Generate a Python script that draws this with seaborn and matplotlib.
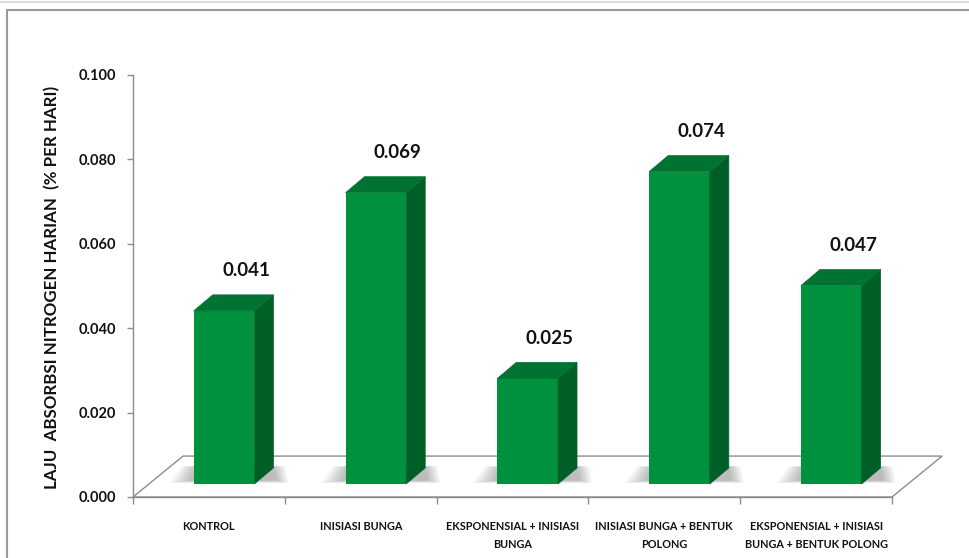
import matplotlib
matplotlib.use("Agg")
import matplotlib.pyplot as plt
from matplotlib.patches import Polygon, Rectangle
import seaborn as sns
import pandas as pd
import numpy as np

# ---- data ----
categories = [
    "KONTROL",
    "INISIASI BUNGA",
    "EKSPONENSIAL + INISIASI\nBUNGA",
    "INISIASI BUNGA + BENTUK\nPOLONG",
    "EKSPONENSIAL + INISIASI\nBUNGA + BENTUK POLONG",
]
values = [0.041, 0.069, 0.025, 0.074, 0.047]
value_labels = ["0.041", "0.069", "0.025", "0.074", "0.047"]
y_ticks = [0.000, 0.020, 0.040, 0.060, 0.080, 0.100]
y_tick_labels = ["0.000", "0.020", "0.040", "0.060", "0.080", "0.100"]
y_label = "LAJU  ABSORBSI NITROGEN HARIAN  (% PER HARI)"

sns.set_theme(style="white")
plt.rcParams['font.family'] = ['Lato', 'DejaVu Sans']

FRONT = "#00913f"
SIDE = "#005f26"
TOP = "#007332"
GRID = "#8c8c8c"

fig = plt.figure(figsize=(9.69, 5.58), dpi=100)
ax = fig.add_axes([133/969, 61/558, 759/969, 422/558])

df = pd.DataFrame({"cat": categories, "val": values})
sns.barplot(data=df, x="cat", y="val", color=FRONT, saturation=1,
            width=0.4, ax=ax, zorder=3, linewidth=0)

ax.set_xlim(-0.5, 4.5)
ax.set_ylim(0, 0.1)

# 3D-like geometry in data units
base = 0.0031          # front face bottom
off_x = -0.10          # front face offset from category centre (left edge)
fw = 0.40              # front face width
ddx = 0.125            # depth offset x
ddy = 0.0038           # depth offset y
floor_dx = 0.33
floor_dy = 0.0097

# floor
floor = Polygon([(-0.5, 0), (4.5, 0), (4.5 + floor_dx, floor_dy), (-0.5 + floor_dx, floor_dy)],
                closed=True, facecolor="white", edgecolor=GRID, lw=1.0,
                clip_on=False, zorder=1)
ax.add_patch(floor)

bars = [pp for pp in ax.patches if isinstance(pp, Rectangle)][:len(values)]
for i, p in enumerate(bars):
    h = p.get_height()
    cx = p.get_x() + p.get_width() / 2
    x0 = cx + off_x
    p.set_x(x0)
    p.set_width(fw)
    p.set_y(base)
    x1 = x0 + fw
    ytop = base + h
    # soft shadow (layered, tapering)
    n = 8
    for k in range(n):
        f = k / (n - 1)
        sh = Polygon([(x0 - 0.16 + 0.14 * f, base + 0.0002 + 0.0006 * f),
                      (x1 + ddx + 0.10 - 0.08 * f, base + 0.0002 + 0.0006 * f),
                      (x1 + ddx + 0.08 - 0.08 * f, base + ddy + 0.0004),
                      (x0 - 0.08 + 0.1 * f, base + ddy + 0.0004)],
                     closed=True, facecolor="black", alpha=0.035, lw=0, zorder=2, clip_on=False)
        ax.add_patch(sh)
    side = Polygon([(x1, base), (x1 + ddx, base + ddy), (x1 + ddx, ytop + ddy), (x1, ytop)],
                   closed=True, facecolor=SIDE, edgecolor=SIDE, lw=0.5, zorder=3, clip_on=False)
    top = Polygon([(x0, ytop), (x1, ytop), (x1 + ddx, ytop + ddy), (x0 + ddx, ytop + ddy)],
                  closed=True, facecolor=TOP, edgecolor=TOP, lw=0.5, zorder=3, clip_on=False)
    ax.add_patch(side)
    ax.add_patch(top)
    ax.text(x0 + fw / 2 + 0.145, ytop + 0.0095, value_labels[i], ha="center", va="center",
            fontsize=13.5, fontweight="bold", color="#111111", zorder=5)

# axes styling
for s in ["top", "right"]:
    ax.spines[s].set_visible(False)
for s in ["left", "bottom"]:
    ax.spines[s].set_color(GRID)
    ax.spines[s].set_linewidth(1.0)
    ax.spines[s].set_zorder(1)

ax.set_yticks(y_ticks)
ax.set_yticklabels(y_tick_labels, fontsize=10.5, fontweight="bold", color="#111111")
ax.tick_params(axis="y", which="major", direction="out", length=4, width=1, color=GRID, pad=8, left=True)

ax.set_xticks(range(len(categories)))
ax.set_xticklabels(categories, fontsize=7.8, fontweight="bold", color="#111111", linespacing=1.8)
ax.tick_params(axis="x", which="major", length=0, pad=17)
ax.set_xticks(np.arange(-0.5, 5.0, 1.0), minor=True)
ax.tick_params(axis="x", which="minor", direction="out", length=5, width=1, color=GRID, bottom=True)

ax.set_xlabel("")
ax.set_ylabel(y_label, fontsize=12.2, fontweight="bold", color="#111111")
ax.yaxis.set_label_coords(-0.096, 0.497)

# figure frame lines
fig.add_artist(plt.Line2D([7/969, 7/969], [0, 1 - 10/558], transform=fig.transFigure, color="#9a9a9a", lw=1.5))
fig.add_artist(plt.Line2D([7/969, 1], [1 - 10/558, 1 - 10/558], transform=fig.transFigure, color="#9a9a9a", lw=1.5))
fig.add_artist(plt.Line2D([0, 1], [1 - 1.5/558, 1 - 1.5/558], transform=fig.transFigure, color="#dddddd", lw=1.5))

fig.savefig("out.png", dpi=100, facecolor="white")
